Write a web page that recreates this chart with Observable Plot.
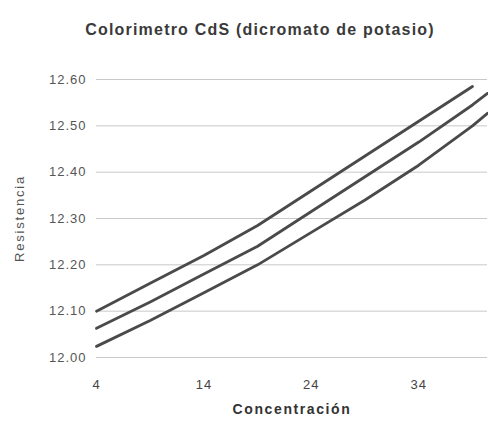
<!DOCTYPE html>
<html>
<head>
<meta charset="utf-8">
<script src="https://cdn.jsdelivr.net/npm/d3@7"></script>
<script src="https://cdn.jsdelivr.net/npm/@observablehq/plot@0.6"></script>
<style>
  body { margin: 0; background: #fff; font-family: "Liberation Sans", Arial, sans-serif; }
  #title { height: 50px; width: 488px; position: relative; }
  #title span { position: absolute; left: 0; width: 520px; text-align: center; top: 21px;
    font-size: 16px; font-weight: bold; color: #3a3a3a; letter-spacing: 1.2px; }
  svg text { letter-spacing: 1px; }
</style>
</head>
<body>
<div id="title"><span>Colorimetro CdS (dicromato de potasio)</span></div>
<div id="chart"></div>
<script>
const concentracion = [4, 9, 14, 19, 24, 29, 34, 39, 40.4];
const serieA = [12.10, 12.16, 12.22, 12.285, 12.36, 12.435, 12.51, 12.585, null];
const serieB = [12.063, 12.12, 12.18, 12.24, 12.315, 12.39, 12.465, 12.545, 12.57];
const serieC = [12.024, 12.08, 12.14, 12.20, 12.27, 12.34, 12.415, 12.50, 12.527];
const xTicks = [4, 14, 24, 34];
const yTicks = [12.0, 12.1, 12.2, 12.3, 12.4, 12.5, 12.6];

const data = [];
[["A", serieA], ["B", serieB], ["C", serieC]].forEach(([name, vals]) => {
  vals.forEach((v, i) => { if (v != null) data.push({serie: name, x: concentracion[i], y: v}); });
});

const chart = Plot.plot({
  width: 488,
  height: 375,
  marginLeft: 96,
  marginRight: 1,
  marginTop: 29,
  marginBottom: 68,
  style: {fontFamily: "Liberation Sans, Arial, sans-serif", color: "#444", background: "#fff"},
  x: {domain: [4, 40.4]},
  y: {domain: [12.0, 12.6]},
  marks: [
    Plot.ruleY(yTicks, {stroke: "#c8c8c8", strokeWidth: 1}),
    Plot.axisY({ticks: yTicks, tickSize: 0, tickPadding: 10, tickFormat: d => d.toFixed(2),
      fontSize: 13, fill: "#555", label: "Resistencia", labelAnchor: "center", labelOffset: 82, labelArrow: "none"}),
    Plot.axisX({ticks: xTicks, tickSize: 0, tickPadding: 22, fontSize: 13, fill: "#444",
      label: "Concentración", labelAnchor: "center", labelOffset: 56, labelArrow: "none"}),
    Plot.line(data, {x: "x", y: "y", z: "serie", stroke: "#4a4a4a", strokeWidth: 2.8})
  ]
});
chart.querySelectorAll("g[aria-label='y-axis label'] text").forEach(t => { t.setAttribute("font-size", 13); t.style.letterSpacing = "1.8px"; });
chart.querySelectorAll("g[aria-label='x-axis label'] text").forEach(t => { t.setAttribute("font-size", 14); t.style.letterSpacing = "1.6px"; t.setAttribute("font-weight", "bold"); t.setAttribute("fill", "#333"); });
document.getElementById("chart").appendChild(chart);
</script>
</body>
</html>
